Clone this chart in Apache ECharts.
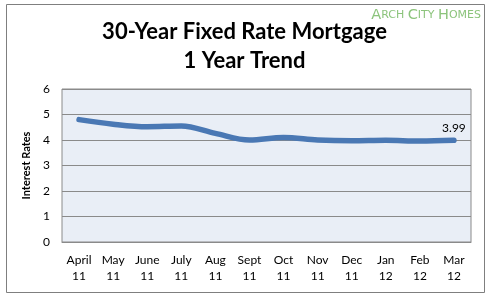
<!DOCTYPE html>
<html><head><meta charset="utf-8">
<script src="https://cdn.jsdelivr.net/npm/echarts@6/dist/echarts.min.js"></script>
<style>html,body{margin:0;padding:0;background:#fff}#c{width:489px;height:298px}</style>
</head><body><div id="c"></div>
<script>
const categories = ['April\n11','May\n11','June\n11','July\n11','Aug\n11','Sept\n11','Oct\n11','Nov\n11','Dec\n11','Jan\n12','Feb\n12','Mar\n12'];
const rates = [4.80, 4.62, 4.52, 4.55, 4.26, 4.00, 4.10, 4.00, 3.97, 3.99, 3.96, 3.99];
const yTicks = [0, 6, 1];

const chart = echarts.init(document.getElementById('c'));
const font = 'Lato, "Open Sans", sans-serif';
chart.setOption({
  animation: false,
  backgroundColor: '#fff',
  title: [{
    text: '30-Year Fixed Rate Mortgage\n1 Year Trend',
    left: 'center', top: 12,
    textStyle: {fontFamily: font, fontSize: 22, fontWeight: 'bold', color: '#000', lineHeight: 29}
  }],
  graphic: [
    {type: 'rect', shape: {x: 6.5, y: 4.5, width: 478, height: 288}, style: {fill: null, stroke: '#7f7f7f', lineWidth: 1}, z: 0},
    {type: 'text', right: 8, top: 8, style: {
      rich: {
        b: {fontSize: 14.5, fill: '#8cc47c', fontFamily: '"DejaVu Sans", sans-serif'},
        s: {fontSize: 11, fill: '#8cc47c', fontFamily: '"DejaVu Sans", sans-serif'}
      },
      text: '{b|A}{s|RCH }{b|C}{s|ITY }{b|H}{s|OMES}'
    }}
  ],
  grid: {left: 62, right: 18, top: 89, bottom: 56, backgroundColor: '#e9eef6', show: true, borderColor: '#8a8a8a', borderWidth: 1},
  xAxis: {
    type: 'category', data: categories, boundaryGap: true,
    axisLine: {show: true, lineStyle: {color: '#8a8a8a'}}, axisTick: {show: false},
    axisLabel: {color: '#000', fontFamily: font, fontSize: 12, lineHeight: 16, margin: 10, interval: 0}
  },
  yAxis: {
    type: 'value', min: yTicks[0], max: yTicks[1], interval: yTicks[2],
    name: 'Interest Rates', nameLocation: 'middle', nameGap: 20, nameRotate: 90,
    nameTextStyle: {fontFamily: font, fontSize: 11, fontWeight: 'bold', color: '#000'},
    axisLine: {show: false}, axisTick: {show: false},
    axisLabel: {color: '#000', fontFamily: font, fontSize: 12, margin: 12},
    splitLine: {lineStyle: {color: '#8a8a8a', width: 1}}
  },
  series: [{
    type: 'line', data: rates, smooth: 0.35, symbol: 'none',
    lineStyle: {color: '#4a78b4', width: 5.5, cap: 'round'},
    markPoint: {
      symbol: 'circle', symbolSize: 0,
      data: [{coord: [11, rates[11]], value: rates[11]}],
      label: {show: true, position: 'top', distance: 6, color: '#000', fontFamily: font, fontSize: 12, formatter: (p) => p.value.toFixed(2)}
    }
  }]
});
</script></body></html>
